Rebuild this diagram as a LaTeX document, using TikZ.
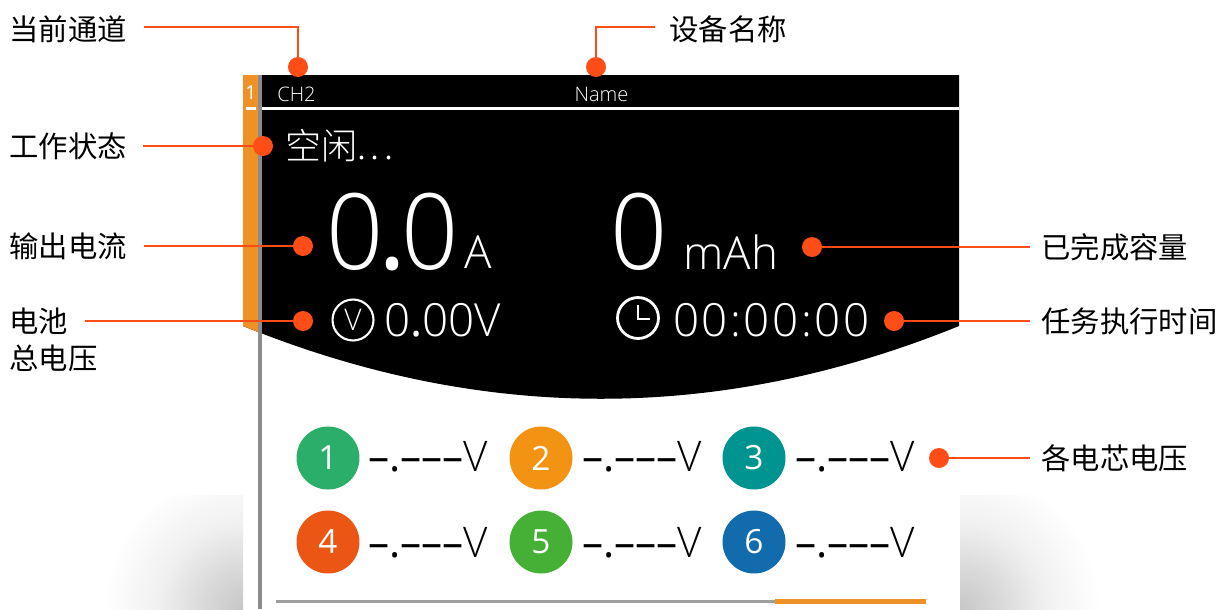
\documentclass[tikz,border=0pt]{standalone}
\usepackage{fontspec}
\usetikzlibrary{positioning}
\setmainfont{Open Sans}
\newfontfamily\cjk{Noto Sans CJK SC}
\newfontfamily\cjklight{Noto Sans CJK SC Light}
\newfontfamily\thin{Open Sans Light}
\newfontfamily\thinbig[FakeStretch=0.95]{Open Sans Light}
\newfontfamily\thinwide[LetterSpace=5.5]{Open Sans Light}
\definecolor{leadred}{HTML}{FF4D17}
\definecolor{stripe}{HTML}{EE9126}
\definecolor{railgray}{HTML}{8C8C8C}
\definecolor{cellA}{HTML}{2BAE6A}
\definecolor{cellB}{HTML}{F39314}
\definecolor{cellC}{HTML}{009490}
\definecolor{cellD}{HTML}{EC5615}
\definecolor{cellE}{HTML}{45B035}
\definecolor{cellF}{HTML}{126BAD}
\pgfdeclareradialshading{cornerglow}{\pgfpoint{0bp}{0bp}}{color(0bp)=(black!22); color(8bp)=(black!14); color(15bp)=(black!6); color(25bp)=(white); color(50bp)=(white)}
\tikzset{
  caption/.style={font=\cjk\fontsize{16.7}{16.7}\selectfont,inner sep=0pt},
  dotmark/.style={circle,fill=leadred,minimum size=20*0.569pt,inner sep=0pt},
  leader/.style={leadred,line width=1.4pt},
  cell/.style={circle,minimum size=63*0.569pt,inner sep=0pt,text=white,font=\fontsize{19}{19}\selectfont},
  volts/.style={anchor=west,inner sep=0pt,font=\thin\fontsize{24}{24}\selectfont},
  screentext/.style={text=white,inner sep=0pt,font=\thin}
}
\newcommand{\cellvolts}{{\rmfamily –.–––}V}
\begin{document}
\begin{tikzpicture}[x=0.02cm,y=-0.02cm]
\useasboundingbox (0,0) rectangle (1219,609);
\begin{scope}
\clip (100,495) rectangle (243,609);
\shade[shading=cornerglow] (243,609) circle (140);
\end{scope}
\begin{scope}
\clip (960,495) rectangle (1110,609);
\shade[shading=cornerglow] (960,609) circle (140);
\end{scope}
\fill[black] (243,75) -- (959,75) -- (959,326) .. controls (720,423) and (482,423) .. (243,326) -- cycle;
\begin{scope}
\clip (243,70) rectangle (258,340);
\fill[stripe] (243,75) -- (959,75) -- (959,326) .. controls (720,423) and (482,423) .. (243,326) -- cycle;
\end{scope}
\fill[railgray] (258,75) rectangle (262,609);
\fill[white] (262,106.5) rectangle (959,109.5);
\fill[white] (246,106.5) rectangle (256,109.5);
\node[inner sep=0pt,text=white,font=\fontsize{11}{11}\selectfont] (slot) at (251,93) {1};
\node[screentext,anchor=west,font=\thin\fontsize{11.4}{11.4}\selectfont] (chan) at (277,94) {CH2};
\node[screentext,font=\thin\fontsize{11.4}{11.4}\selectfont] (name) at (601.5,94) {Name};
\node[screentext,anchor=west,font=\cjklight\fontsize{20.5}{20.5}\selectfont] (state) at (285,146) {空闲.\kern2.5pt.\kern2.5pt.};
\node[screentext,anchor=west,font=\thinbig\fontsize{60}{60}\selectfont] (amps) at (326,232) {0\kern-3pt{\rmfamily .}\kern-3pt0};
\node[screentext,anchor=west,font=\thin\fontsize{26}{26}\selectfont] (ampunit) at (464,252) {A};
\node[screentext,anchor=west,font=\thinbig\fontsize{60}{60}\selectfont] (cap) at (610,232) {0};
\node[screentext,anchor=west,font=\thin\fontsize{26}{26}\selectfont] (capunit) at (683,252) {mAh};
\node[circle,draw=white,line width=1.2pt,minimum size=41*0.569pt,inner sep=0pt,text=white,font=\thin\fontsize{17}{17}\selectfont] (vmark) at (353,320) {V};
\node[screentext,anchor=west,font=\thin\fontsize{26}{26}\selectfont] (volt) at (384,320) {0{\rmfamily .}00V};
\node[circle,draw=white,line width=1.6pt,minimum size=41*0.569pt,inner sep=0pt] (clock) at (638,318) {};
\draw[white,line width=1.6pt] (638,305) -- (638,319) -- (650,319);
\node[screentext,anchor=west,font=\thinwide\fontsize{26}{26}\selectfont] (timer) at (673,320) {00:00:00};
\node[cell,fill=cellA] (c1) at (328,458) {1};
\node[cell,fill=cellB] (c2) at (541,458) {2};
\node[cell,fill=cellC] (c3) at (754,458) {3};
\node[cell,fill=cellD] (c4) at (328,542) {4};
\node[cell,fill=cellE] (c5) at (541,542) {5};
\node[cell,fill=cellF] (c6) at (754,542) {6};
\node[volts] (v1) at (368,457) {\cellvolts};
\node[volts] (v2) at (582,457) {\cellvolts};
\node[volts] (v3) at (795,457) {\cellvolts};
\node[volts] (v4) at (368,543) {\cellvolts};
\node[volts] (v5) at (582,543) {\cellvolts};
\node[volts] (v6) at (795,543) {\cellvolts};
\fill[black!38] (276,599.5) rectangle (775,603);
\fill[stripe] (775,599) rectangle (926,604);
\node[dotmark] (dchan) at (298,67) {};
\node[dotmark] (dname) at (596,67) {};
\node[dotmark] (dstate) at (263,146) {};
\node[dotmark] (damps) at (303,246) {};
\node[dotmark] (dvolt) at (303,321) {};
\node[dotmark] (dcap) at (812,247) {};
\node[dotmark] (dtimer) at (894,321) {};
\node[dotmark] (dcells) at (939,458) {};
\node[caption,anchor=west] (lchan) at (9,29) {当前通道};
\node[caption,anchor=west] (lname) at (669,29) {设备名称};
\node[caption,anchor=west] (lstate) at (9,146) {工作状态};
\node[caption,anchor=west] (lamps) at (9,246) {输出电流};
\node[caption,anchor=west] (lvolt) at (9,321) {电池};
\node[caption,anchor=west] (lvoltb) at (9,358) {总电压};
\node[caption,anchor=west] (lcap) at (1041,247) {已完成容量};
\node[caption,anchor=west] (ltimer) at (1041,321) {任务执行时间};
\node[caption,anchor=west] (lcells) at (1041,458) {各电芯电压};
\coordinate[right=0.34cm of lchan.east,yshift=0.04cm] (schan);
\coordinate[left=0.28cm of lname.west,yshift=0.04cm] (sname);
\coordinate[right=0.32cm of lstate.east] (sstate);
\coordinate[right=0.34cm of lamps.east] (samps);
\coordinate[right=0.34cm of lvolt.east] (svolt);
\coordinate[left=0.22cm of lcap.west] (scap);
\coordinate[left=0.22cm of ltimer.west] (stimer);
\coordinate[left=0.22cm of lcells.west] (scells);
\draw[leader] (schan) -| (dchan);
\draw[leader] (sname) -| (dname);
\draw[leader] (sstate) -- (dstate);
\draw[leader] (samps) -- (damps);
\draw[leader] (svolt) -- (dvolt);
\draw[leader] (scap) -- (dcap);
\draw[leader] (stimer) -- (dtimer);
\draw[leader] (scells) -- (dcells);
\end{tikzpicture}
\end{document}
